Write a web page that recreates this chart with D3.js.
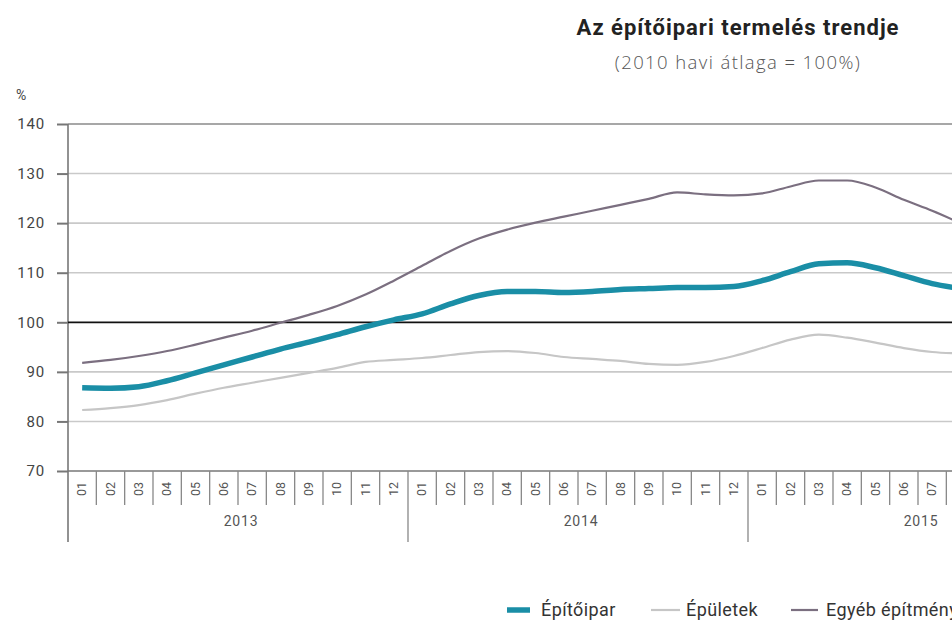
<!DOCTYPE html>
<html><head><meta charset="utf-8">
<script src="https://cdn.jsdelivr.net/npm/d3@7/dist/d3.min.js"></script>
<style>
html,body{margin:0;padding:0;background:#fff;overflow:hidden;}
svg{display:block;font-family:Roboto, "Noto Sans", sans-serif;}
</style></head><body>
<svg id="c" width="952" height="638"></svg>
<script>
const years = ["2013","2014","2015"];
const months = ["01","02","03","04","05","06","07","08","09","10","11","12"];
const yTicks = [70,80,90,100,110,120,130,140];
const seriesNames = ["Építőipar","Épületek","Egyéb építmények"];
const epitoipar = [86.8,86.7,87.0,88.2,89.8,91.4,93.0,94.6,96.0,97.5,99.1,100.5,
  101.7,103.7,105.4,106.2,106.2,106.0,106.2,106.6,106.8,107.0,107.0,107.2,
  108.4,110.2,111.8,112.0,111.0,109.4,107.8,106.8];
const epuletek = [82.3,82.7,83.3,84.3,85.6,86.8,87.8,88.8,89.8,90.8,92.0,92.4,
  92.8,93.4,94.0,94.2,93.8,93.0,92.6,92.2,91.6,91.4,92.0,93.2,
  94.8,96.5,97.5,96.9,95.9,94.8,94.0,93.7];
const egyeb = [91.8,92.4,93.2,94.2,95.5,96.9,98.3,99.9,101.5,103.3,105.6,108.4,
  111.4,114.4,116.9,118.7,120.1,121.3,122.5,123.7,124.9,126.2,125.8,125.6,
  126.0,127.4,128.6,128.6,127.2,124.7,122.5,120.0];

const cats = [];
years.forEach(y => months.forEach(m => cats.push(y + "-" + m)));

const W = 952;
const svg = d3.select("#c");
const x0 = 68, monthW = 340/12;
const x = d3.scaleBand().domain(cats).range([x0, x0 + monthW*cats.length]).paddingInner(0).paddingOuter(0);
const y = d3.scaleLinear().domain([70,140]).range([471,124]);

// gridlines
svg.append("g").selectAll("line").data(yTicks.filter(v => v !== 70 && v !== 100))
  .join("line")
  .attr("x1", x0).attr("x2", W)
  .attr("y1", d => y(d)).attr("y2", d => y(d))
  .attr("stroke", d => d === 140 ? "#8a8a8a" : "#c9c9c9")
  .attr("stroke-width", 1.6);

// y axis
const yAxis = svg.append("g").attr("transform", `translate(${x0},0)`)
  .call(d3.axisLeft(y).tickValues(yTicks).tickSize(11).tickPadding(12));
yAxis.select(".domain").remove();
yAxis.selectAll(".tick line").attr("stroke", "#777").attr("stroke-width", 2);
yAxis.selectAll(".tick text").attr("fill", "#444").style("font-size", "15px")
  .style("letter-spacing", "0.8px")
  .style("font-family", "Roboto, sans-serif");
svg.append("line").attr("x1", x0).attr("x2", x0).attr("y1", y(140)).attr("y2", 542)
  .attr("stroke", "#777").attr("stroke-width", 1.6);
// x baseline
svg.append("line").attr("x1", x0).attr("x2", W).attr("y1", y(70)).attr("y2", y(70))
  .attr("stroke", "#777").attr("stroke-width", 1.6);

// month dividers
const bounds = cats.map((c,i) => i).slice(1).filter(i => x(cats[i]) < W);
svg.append("g").selectAll("line").data(bounds).join("line")
  .attr("x1", i => x(cats[i])).attr("x2", i => x(cats[i]))
  .attr("y1", y(70)).attr("y2", i => i % 12 === 0 ? 542 : 505)
  .attr("stroke", "#888").attr("stroke-width", 1.3);

// month labels (only those inside the visible area)
svg.append("g").selectAll("text").data(cats.filter(d => x(d) + x.bandwidth() <= W))
  .join("text")
  .attr("transform", d => `translate(${x(d) + x.bandwidth()/2 + 4},489) rotate(-90)`)
  .attr("text-anchor", "middle")
  .attr("fill", "#555").style("font-size", "12.5px")
  .text(d => d.split("-")[1]);

// year labels
svg.append("g").selectAll("text").data(years).join("text")
  .attr("x", d => (x(d + "-01") + x(d + "-12") + x.bandwidth())/2 + 3)
  .attr("y", 526).attr("text-anchor", "middle")
  .attr("fill", "#555").style("font-size", "14px").style("letter-spacing", "0.8px")
  .text(d => d);

// 100 line
svg.append("line").attr("x1", x0).attr("x2", W).attr("y1", y(100)).attr("y2", y(100))
  .attr("stroke", "#111").attr("stroke-width", 1.8);

const line = d3.line().x((d,i) => x(cats[i]) + x.bandwidth()/2).y(d => y(d)).curve(d3.curveMonotoneX);
svg.append("path").datum(epuletek).attr("d", line).attr("fill","none")
  .attr("stroke","#c6c6c6").attr("stroke-width",2.2);
svg.append("path").datum(egyeb).attr("d", line).attr("fill","none")
  .attr("stroke","#7b6f80").attr("stroke-width",2.2);
svg.append("path").datum(epitoipar).attr("d", line).attr("fill","none")
  .attr("stroke","#1a8ea6").attr("stroke-width",5.5);

// % label
svg.append("text").attr("x", 16).attr("y", 100).attr("fill","#444")
  .style("font-size","14px").text("%");

// title
svg.append("text").attr("x", 738).attr("y", 35).attr("text-anchor","middle")
  .attr("fill","#222").style("font-size","22px").style("font-weight","bold")
  .style("letter-spacing","1px").text("Az építőipari termelés trendje");
svg.append("text").attr("x", 738).attr("y", 69).attr("text-anchor","middle")
  .attr("fill","#555").style("font-size","18.5px").style("font-weight","300")
  .style("font-family", "'Open Sans', Roboto, sans-serif")
  .style("letter-spacing","1.4px").text("(2010 havi átlaga = 100%)");

// legend
const legend = [
  {name: seriesNames[0], color:"#1a8ea6", w:5.5, x1:507, x2:530, tx:541},
  {name: seriesNames[1], color:"#c6c6c6", w:2.2, x1:651, x2:680, tx:686},
  {name: seriesNames[2], color:"#7b6f80", w:2.2, x1:791, x2:818, tx:826}
];
const lg = svg.append("g");
legend.forEach(l => {
  lg.append("line").attr("x1", l.x1).attr("x2", l.x2).attr("y1", 610).attr("y2", 610)
    .attr("stroke", l.color).attr("stroke-width", l.w);
  lg.append("text").attr("x", l.tx).attr("y", 616).attr("fill","#333")
    .style("font-size","18px").style("letter-spacing","0.4px").text(l.name);
});
</script>
</body></html>
